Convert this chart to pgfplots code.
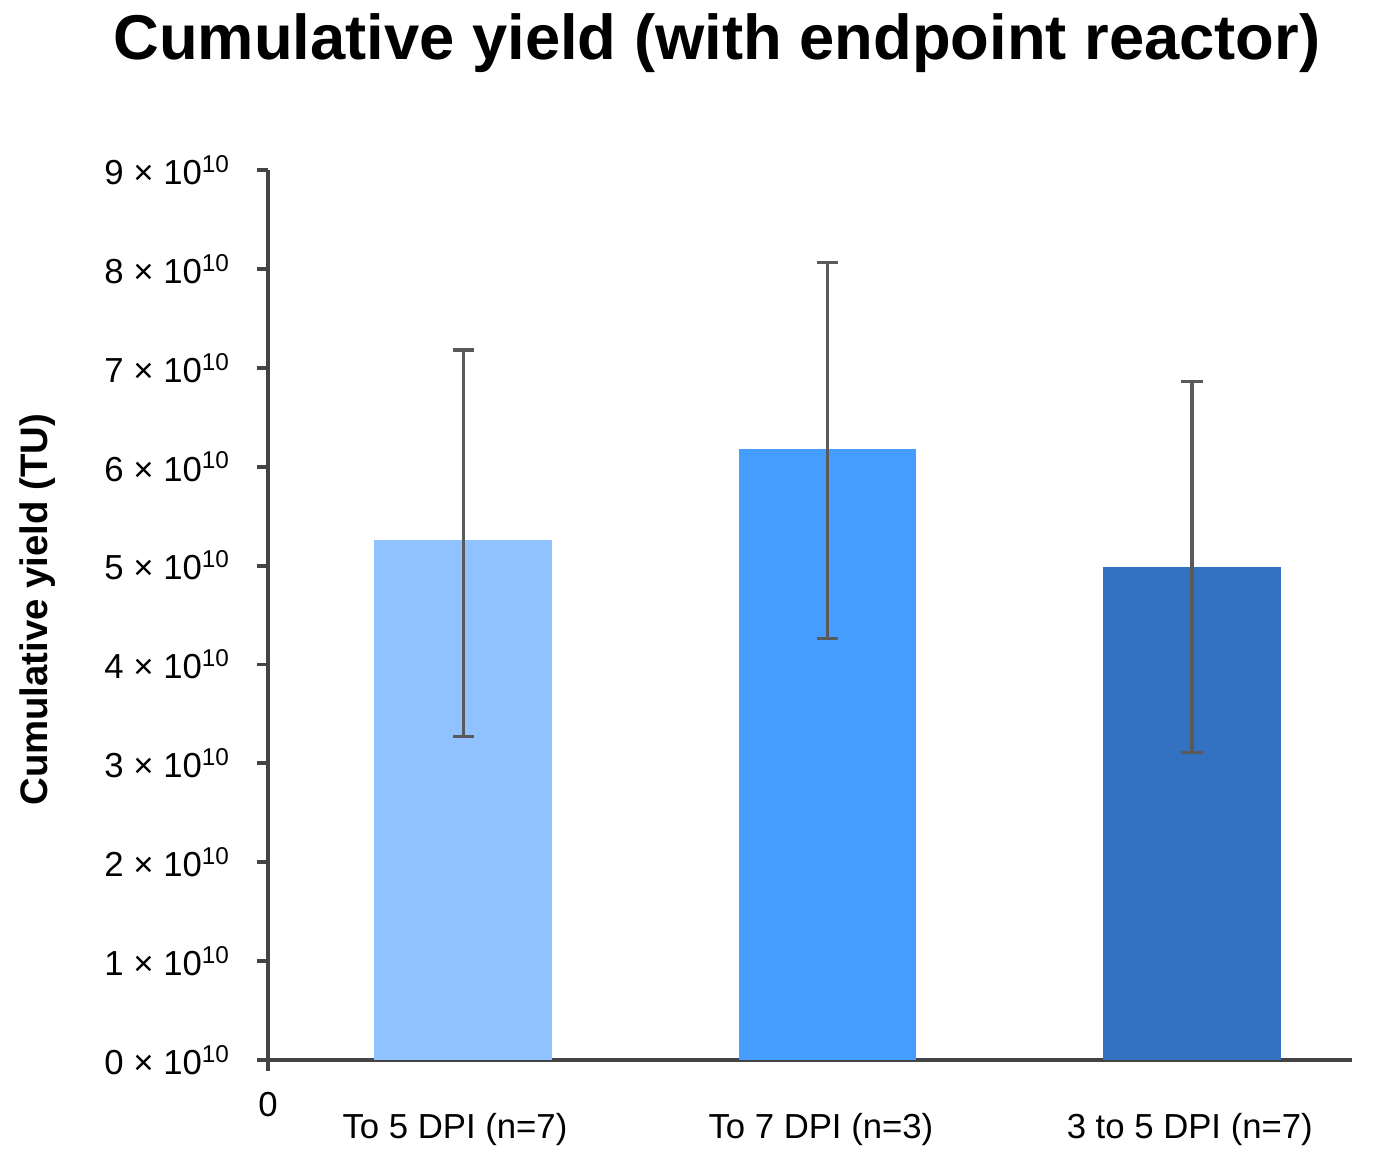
\documentclass[border=0pt]{standalone}
\usepackage{pgfplots}
\pgfplotsset{compat=1.18}
\usepackage{fontspec}
\setmainfont{Liberation Sans}
\definecolor{barA}{HTML}{90C2FF}
\definecolor{barB}{HTML}{449DFF}
\definecolor{barC}{HTML}{3372C1}
\definecolor{errc}{HTML}{5A5A5A}
\definecolor{axc}{HTML}{444444}
\begin{document}
\begin{tikzpicture}
\path[use as bounding box] (-96.48pt,-41.04pt) rectangle (402.12pt,381.6pt);
\begin{axis}[
  at={(0,0)}, anchor=south west,
  scale only axis,
  width=390.24pt, height=320.4pt,
  xmin=0, xmax=2.974,
  ymin=0, ymax=9,
  axis lines*=left,
  axis line style={color=axc, line width=1.4pt},
  tick style={color=axc, line width=1.4pt},
  tick align=outside,
  major tick length=4pt,
  /pgf/number format/assume math mode=true,
  ytick={0,1,2,3,4,5,6,7,8,9},
  yticklabels={0 × 10\textsuperscript{10},1 × 10\textsuperscript{10},2 × 10\textsuperscript{10},3 × 10\textsuperscript{10},4 × 10\textsuperscript{10},5 × 10\textsuperscript{10},6 × 10\textsuperscript{10},7 × 10\textsuperscript{10},8 × 10\textsuperscript{10},9 × 10\textsuperscript{10}},
  yticklabel style={font=\fontsize{12.5}{15}\selectfont, anchor=east, xshift=-6pt},
  xtick={0},
  xticklabels={0},
  xticklabel style={font=\fontsize{12.5}{15}\selectfont, anchor=center, yshift=-12pt},
  extra x ticks={0.513,1.517,2.529},
  extra x tick labels={To 5 DPI (n=7),To 7 DPI (n=3),3 to 5 DPI (n=7)},
  extra x tick style={major tick length=0pt, xticklabel style={yshift=-13.2pt}},
  title={Cumulative yield (with endpoint reactor)},
  title style={font=\fontsize{22.8}{27}\selectfont\bfseries, at={(rel axis cs:0.414,1.1235)}, anchor=center},
  ylabel={Cumulative yield (TU)},
  ylabel style={font=\fontsize{13.8}{16}\selectfont\bfseries, at={(rel axis cs:-0.213,0.506)}, anchor=center, rotate=0},
  ybar, bar width=64pt, bar shift=0pt,
  clip=false,
]
\addplot[fill=barA, draw=none, error bars/.cd, y dir=both, y explicit,
  error bar style={line width=1.1pt, color=errc},
  error mark options={rotate=90, mark size=3.8pt, line width=1.1pt, color=errc}]
  coordinates {(0.536,5.26) += (0,1.92) -= (0,1.99)};
\addplot[fill=barB, draw=none, error bars/.cd, y dir=both, y explicit,
  error bar style={line width=1.1pt, color=errc},
  error mark options={rotate=90, mark size=3.8pt, line width=1.1pt, color=errc}]
  coordinates {(1.535,6.18) += (0,1.88) -= (0,1.92)};
\addplot[fill=barC, draw=none, error bars/.cd, y dir=both, y explicit,
  error bar style={line width=1.1pt, color=errc},
  error mark options={rotate=90, mark size=3.8pt, line width=1.1pt, color=errc}]
  coordinates {(2.535,4.985) += (0,1.88) -= (0,1.88)};
\end{axis}
\end{tikzpicture}
\end{document}
